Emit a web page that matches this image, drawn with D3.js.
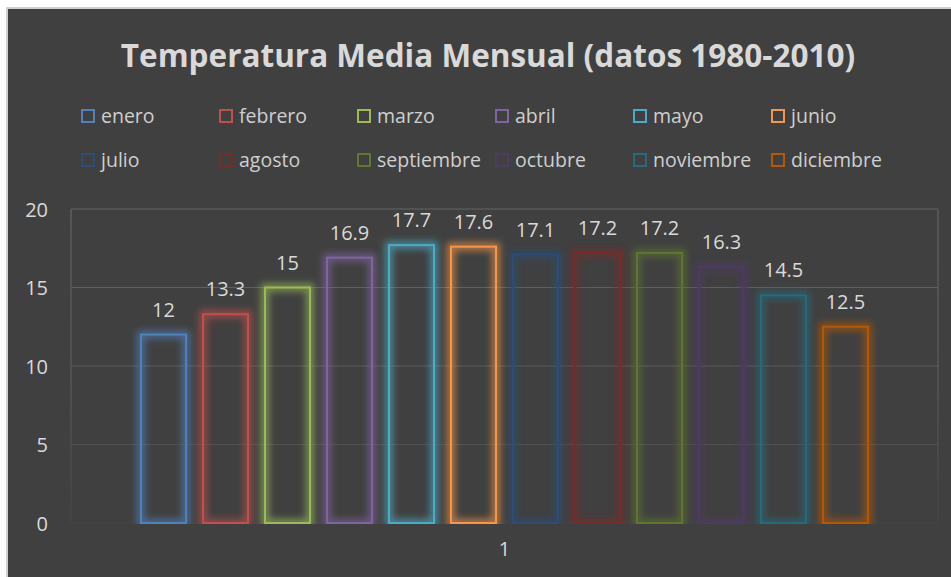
<!DOCTYPE html>
<html>
<head>
<meta charset="utf-8">
<script src="https://cdn.jsdelivr.net/npm/d3@7"></script>
<style>
  body { margin: 0; background: #ffffff; }
  svg { display: block; font-family: "Open Sans", "Noto Sans", sans-serif; }
</style>
</head>
<body>
<svg id="chart"></svg>
<script>
// Data
const months = ['enero', 'febrero', 'marzo', 'abril', 'mayo', 'junio',
  'julio', 'agosto', 'septiembre', 'octubre', 'noviembre', 'diciembre'];
const temps = [12, 13.3, 15, 16.9, 17.7, 17.6, 17.1, 17.2, 17.2, 16.3, 14.5, 12.5];
const categories = ['1'];
const yTicks = [0, 5, 10, 15, 20];
const monthColors = ['#4F81BD', '#C0504D', '#9BBB59', '#8064A2', '#4BACC6', '#F79646',
  '#2C4D75', '#772C2A', '#5F7530', '#4D3B62', '#276A7C', '#B65708'];

const width = 951, height = 577;
const plot = {left: 71, right: 938, top: 209, bottom: 523};

const svg = d3.select('#chart')
    .attr('width', width)
    .attr('height', height);

const defs = svg.append('defs');

// soft glow round each bar outline
const glow = defs.append('filter')
    .attr('id', 'glow')
    .attr('x', '-50%').attr('y', '-50%')
    .attr('width', '200%').attr('height', '200%');
glow.append('feGaussianBlur')
    .attr('in', 'SourceGraphic')
    .attr('stdDeviation', 3.5);

// gridlines fade toward the bottom
const grad = defs.append('linearGradient')
    .attr('id', 'gridFade')
    .attr('gradientUnits', 'userSpaceOnUse')
    .attr('x1', 0).attr('x2', 0)
    .attr('y1', plot.top).attr('y2', plot.bottom);
grad.append('stop').attr('offset', 0).attr('stop-color', '#636363');
grad.append('stop').attr('offset', 0.55).attr('stop-color', '#5a5a5a');
grad.append('stop').attr('offset', 1).attr('stop-color', '#444444');

defs.append('clipPath').attr('id', 'plotClip')
  .append('rect')
    .attr('x', plot.left - 20).attr('y', 0)
    .attr('width', plot.right - plot.left + 40)
    .attr('height', plot.bottom + 1);

// chart background
svg.append('rect')
    .attr('x', 7).attr('y', 8)
    .attr('width', width - 6).attr('height', height - 7)
    .attr('fill', '#404040')
    .attr('stroke', '#d0d0d0')
    .attr('stroke-width', 2);

// title
svg.append('text')
    .attr('x', 488)
    .attr('y', 67)
    .attr('text-anchor', 'middle')
    .attr('fill', '#d9d9d9')
    .style('font-size', '31.5px')
    .style('font-weight', 'bold')
    .text('Temperatura Media Mensual (datos 1980-2010)');

// scales
const yScale = d3.scaleLinear()
    .domain([0, 20])
    .range([plot.bottom, plot.top]);

const x0 = d3.scaleBand()
    .domain(categories)
    .range([plot.left, plot.right])
    .paddingInner(0)
    .paddingOuter(0.0827);

const x1 = d3.scaleBand()
    .domain(months)
    .range([0, x0.bandwidth()])
    .paddingInner(0.274)
    .paddingOuter(0.137);

const color = d3.scaleOrdinal()
    .domain(months)
    .range(monthColors);

// gridlines
svg.append('g')
  .selectAll('line')
  .data(yTicks)
  .join('line')
    .attr('x1', plot.left).attr('x2', plot.right)
    .attr('y1', d => yScale(d)).attr('y2', d => yScale(d))
    .attr('stroke', 'url(#gridFade)')
    .attr('stroke-width', 1.2);

// plot area sides
svg.append('g')
  .selectAll('line')
  .data([plot.left, plot.right])
  .join('line')
    .attr('x1', d => d).attr('x2', d => d)
    .attr('y1', plot.top).attr('y2', plot.bottom)
    .attr('stroke', 'url(#gridFade)')
    .attr('stroke-width', 1.2);

// y axis labels
const yAxis = d3.axisLeft(yScale)
    .tickValues(yTicks)
    .tickSize(0)
    .tickPadding(0);
const yAxisG = svg.append('g')
    .attr('transform', 'translate(48,0)')
    .call(yAxis);
yAxisG.select('.domain').remove();
yAxisG.selectAll('text')
    .attr('fill', '#d9d9d9')
    .attr('dy', '0.35em')
    .style('font-size', '20px')
    .style('font-family', '"Open Sans", "Noto Sans", sans-serif');

// x axis label
const xAxis = d3.axisBottom(x0).tickSize(0).tickPadding(0);
const xAxisG = svg.append('g')
    .attr('transform', 'translate(0,542)')
    .call(xAxis);
xAxisG.select('.domain').remove();
xAxisG.selectAll('text')
    .attr('fill', '#d9d9d9')
    .style('font-size', '20px')
    .style('font-family', '"Open Sans", "Noto Sans", sans-serif');

// bars
const barsG = svg.append('g')
    .attr('clip-path', 'url(#plotClip)');

const group = barsG.selectAll('.group')
  .data(categories)
  .join('g')
    .attr('class', 'group')
    .attr('transform', d => `translate(${x0(d)},0)`);

const barData = months.map((m, i) => ({month: m, value: temps[i]}));

group.selectAll('.bar-glow')
  .data(barData)
  .join('rect')
    .attr('class', 'bar-glow')
    .attr('x', d => x1(d.month))
    .attr('y', d => yScale(d.value))
    .attr('width', x1.bandwidth())
    .attr('height', d => yScale(0) - yScale(d.value))
    .attr('fill', 'none')
    .attr('stroke', d => color(d.month))
    .attr('stroke-width', 8)
    .attr('stroke-opacity', 0.65)
    .attr('filter', 'url(#glow)');

group.selectAll('.bar')
  .data(barData)
  .join('rect')
    .attr('class', 'bar')
    .attr('x', d => x1(d.month))
    .attr('y', d => yScale(d.value))
    .attr('width', x1.bandwidth())
    .attr('height', d => yScale(0) - yScale(d.value))
    .attr('fill', 'none')
    .attr('stroke', d => color(d.month))
    .attr('stroke-width', 2);

// value labels
group.selectAll('.value')
  .data(barData)
  .join('text')
    .attr('class', 'value')
    .attr('x', d => x1(d.month) + x1.bandwidth() / 2)
    .attr('y', d => yScale(d.value) - 18)
    .attr('text-anchor', 'middle')
    .attr('fill', '#d9d9d9')
    .style('font-size', '20px')
    .text(d => d3.format('~g')(d.value));

// legend
const legend = svg.append('g');
const item = legend.selectAll('.item')
  .data(months)
  .join('g')
    .attr('class', 'item')
    .attr('transform', (d, i) => `translate(${81 + (i % 6) * 138},${i < 6 ? 116 : 160})`);

item.append('rect')
    .attr('x', 1).attr('y', -6)
    .attr('width', 12).attr('height', 12)
    .attr('fill', 'none')
    .attr('stroke', d => color(d))
    .attr('stroke-width', 2);

item.append('text')
    .attr('x', 20)
    .attr('y', 0)
    .attr('dy', '0.35em')
    .attr('fill', '#cfcfcf')
    .style('font-size', '19.5px')
    .text(d => d);
</script>
</body>
</html>
